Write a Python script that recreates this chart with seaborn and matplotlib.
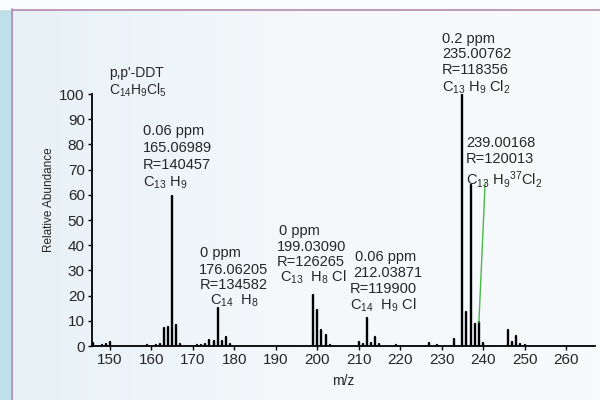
import numpy as np
import pandas as pd
import matplotlib
matplotlib.use("Agg")
import matplotlib.pyplot as plt
import seaborn as sns
from matplotlib.colors import LinearSegmentedColormap

# ---- data ----
mz = [145.8, 148, 149, 150, 159, 161, 162, 163, 164, 165.07, 166, 167,
      171, 172, 173, 174, 175, 176.06, 177, 178, 179,
      199.03, 200, 201, 202, 203, 210, 211, 212.04, 213, 214, 215, 219,
      227, 229, 233, 235.01, 236, 237, 238, 239.00, 240,
      246, 247, 248, 249, 250]
abundance = [1.0, 0.5, 0.6, 1.5, 0.5, 0.4, 0.7, 7.3, 7.7, 59.5, 8.3, 0.7,
             0.4, 0.5, 0.6, 2.4, 2.0, 15.2, 2.0, 3.7, 0.6,
             20.2, 14.3, 6.3, 4.4, 0.5, 1.5, 0.7, 11.2, 1.3, 3.4, 0.6, 0.3,
             1.0, 0.3, 2.6, 100, 13.6, 64, 8.7, 9.4, 1.0,
             6.3, 1.4, 4.0, 0.8, 0.4]
x_ticks = [150, 160, 170, 180, 190, 200, 210, 220, 230, 240, 250, 260]
y_ticks = [0, 10, 20, 30, 40, 50, 60, 70, 80, 90, 100]

sns.set_theme(style="white")
plt.rcParams["font.family"] = ["Liberation Sans", "DejaVu Sans"]
plt.rcParams["mathtext.fontset"] = "custom"
plt.rcParams["mathtext.rm"] = "Liberation Sans"
plt.rcParams["mathtext.it"] = "Liberation Sans"
plt.rcParams["mathtext.default"] = "regular"

fig = plt.figure(figsize=(6, 4), dpi=100)
fig.patch.set_facecolor("#f4f8fb")

# background decoration
bg = fig.add_axes([0, 0, 1, 1], zorder=-10)
grad = np.linspace(0, 1, 300)[None, :]
cm = LinearSegmentedColormap.from_list("bgc", ["#e6f1f6", "#f5f8fb", "#f8fafc"])
bg.imshow(grad, aspect="auto", cmap=cm, extent=[0, 1, 0, 1])
bg.add_patch(plt.Rectangle((0, 0), 12/600, 1, color="#bfe0ea", transform=bg.transAxes))
bg.add_patch(plt.Rectangle((0, 1 - 9/400), 1, 9/400, color="#fbfcfd", transform=bg.transAxes))
bg.plot([12/600, 12/600], [0, 1 - 9/400], color="#b58aae", lw=1.2, transform=bg.transAxes)
bg.plot([12/600, 1], [1 - 9.5/400, 1 - 9.5/400], color="#b58aae", lw=1.2, transform=bg.transAxes)
bg.set_xlim(0, 1); bg.set_ylim(0, 1)
bg.axis("off")

ax = fig.add_axes([91.7/600, 54/400, (595-91.7)/600, (346-94)/400])
ax.set_facecolor("none")

rows = []
for i, (m, h) in enumerate(zip(mz, abundance)):
    rows.append({"peak": i, "mz": m, "abundance": 0.0})
    rows.append({"peak": i, "mz": m, "abundance": h})
df = pd.DataFrame(rows)
sns.lineplot(data=df, x="mz", y="abundance", units="peak", estimator=None,
             sort=False, color="black", lw=1.7, ax=ax, legend=False)

ax.set_xlim(145.6, 267)
ax.set_ylim(0, 100)
ax.set_xticks(x_ticks)
ax.set_yticks(y_ticks)
ax.tick_params(axis="both", labelsize=11, length=3, width=1, color="black",
               bottom=True, left=True, pad=2)
for s in ["top", "right"]:
    ax.spines[s].set_visible(False)
for s in ["left", "bottom"]:
    ax.spines[s].set_color("black")
    ax.spines[s].set_linewidth(1.3)
ax.set_xlabel("m/z", fontsize=10, labelpad=5)
ax.set_ylabel("Relative Abundance", fontsize=8.5)
ax.yaxis.set_label_coords(-0.072, 0.58)

fs = 10.5
def label(x, y, s, size=fs):
    ax.text(x, y, s, ha="left", va="center", fontsize=size, clip_on=False)

label(149.76, 108.3, "p,p'-DDT", 10)
label(149.76, 101.6, r"C$_{14}$H$_{9}$Cl$_{5}$", 10)

label(157.97, 85.3, "0.06 ppm")
label(157.97, 78.6, "165.06989")
label(157.97, 71.8, "R=140457")
label(157.97, 64.7, r"C$_{13}$ H$_{9}$")

label(171.7, 36.9, "0 ppm")
label(171.5, 30.2, "176.06205")
label(171.7, 24.2, "R=134582")
label(174.1, 18.0, r"C$_{14}$  H$_{8}$")

label(190.8, 45.6, "0 ppm")
label(190.3, 39.3, "199.03090")
label(190.3, 33.3, "R=126265")
label(191.0, 27.2, r"C$_{13}$  H$_{8}$ Cl")

label(209.1, 35.4, "0.06 ppm")
label(208.65, 28.8, "212.03871")
label(207.9, 22.5, "R=119900")
label(207.9, 16.1, r"C$_{14}$  H$_{9}$ Cl")

label(230.06, 121.8, "0.2 ppm")
label(230.06, 115.9, "235.00762")
label(230.06, 109.5, "R=118356")
label(230.06, 102.8, r"C$_{13}$ H$_{9}$ Cl$_{2}$")

label(235.85, 80.6, "239.00168")
label(235.85, 74.2, "R=120013")
label(235.85, 65.9, r"C$_{13}$ H$_{9}$$^{37}$Cl$_{2}$")

ax.plot([239.0, 240.5], [9.4, 64.7], color="#4cb84c", lw=1.0, clip_on=False)

fig.savefig("out.png", dpi=100, facecolor=fig.get_facecolor())
